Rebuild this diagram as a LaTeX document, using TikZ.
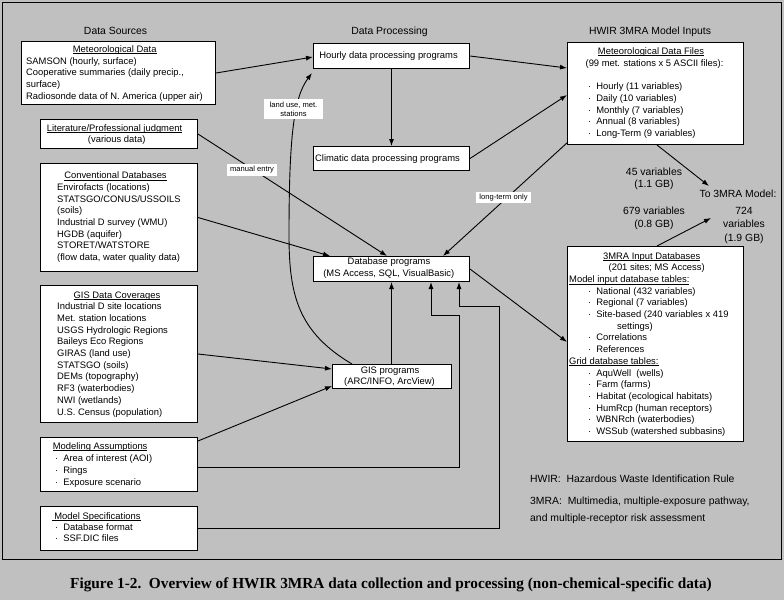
\documentclass[tikz,border=0pt]{standalone}
\usepackage{fontspec}
\setmainfont{Liberation Sans}
\newfontfamily\capfont{Liberation Serif}
\usetikzlibrary{arrows.meta,calc}
\definecolor{bg}{HTML}{C0C0C0}
\newcommand\ulx[1]{\setbox0\hbox{#1}\rlap{\vrule width\wd0 height -1.1pt depth 1.8pt}\box0}
\newcommand\bul{·\kern5pt }
\begin{document}
\begin{tikzpicture}[x=1pt,y=-1pt,
  box/.style={draw=black, line width=1pt, fill=white, inner sep=0pt, anchor=north west},
  txt/.style={inner sep=0pt, font=\fontsize{9.4}{11}\selectfont},
  tl/.style={txt, anchor=base west},
  tc/.style={txt, anchor=base},
  hdr/.style={inner sep=0pt, anchor=base, font=\fontsize{10.4}{12}\selectfont},
  hdl/.style={inner sep=0pt, anchor=base west, font=\fontsize{10.4}{12}\selectfont},
  lbl/.style={fill=white, inner sep=0pt, font=\fontsize{7.6}{8.8}\selectfont, align=center},
  conn/.style={line width=0.9pt},
  arr/.style={conn, -{Latex[length=7pt,width=5pt]}},
]
\fill[bg] (0,0) rectangle (784,600);
\useasboundingbox (0,0) rectangle (784,600);
\draw[line width=1pt] (2,2) rectangle (781,559);

% headers
\node[hdr] (h1) at (115.5,34.7) {Data Sources};
\node[hdr] (h2) at (389.5,34.7) {Data Processing};
\node[hdr] (h3) at (650,34.7) {HWIR 3MRA Model Inputs};

% boxes
\node[box, minimum width=194pt, minimum height=63pt] (met) at (21,41) {};
\node[box, minimum width=157pt, minimum height=29pt] (lit) at (40,119) {};
\node[box, minimum width=157pt, minimum height=108pt] (conv) at (40,163) {};
\node[box, minimum width=157pt, minimum height=137pt] (gisd) at (40,285) {};
\node[box, minimum width=157pt, minimum height=54pt] (ma) at (40,437) {};
\node[box, minimum width=157pt, minimum height=44pt] (ms) at (40,506) {};
\node[box, minimum width=156pt, minimum height=25pt] (hourly) at (313,43) {};
\node[box, minimum width=156pt, minimum height=24pt] (clim) at (313,146) {};
\node[box, minimum width=156pt, minimum height=25pt] (db) at (313,256) {};
\node[box, minimum width=119pt, minimum height=24pt] (gisp) at (332,364) {};
\node[box, minimum width=176pt, minimum height=102pt] (metf) at (567,42) {};
\node[box, minimum width=176pt, minimum height=195pt] (mdb) at (567,246) {};

% connectors
\draw[arr] (met.east) -- ($(hourly.north west)+(0,14)$);
\draw[arr] (hourly.east) -- ($(metf.north west)+(0,26)$);
\draw[arr] (hourly.south) -- (clim.north);
\draw[arr] (clim.east) -- ($(metf.north west)+(0,53)$);
\draw[arr] ($(metf.south west)+(1,-3)$) -- ($(db.north west)+(130,0)$);
\draw[arr] (lit.east) -- ($(db.north west)+(74,0)$);
\draw[arr] (conv.east) -- ($(db.north west)+(17,0)$);
\draw[arr] (gisd.east) -- ($(gisp.north west)+(0,5)$);
\draw[arr] ($(ma.north east)+(0,4)$) -- ($(gisp.south west)+(0,-3)$);
\draw[arr] ($(ma.north east)+(0,30)$) -| (459,315) -| ($(db.south west)+(118,0)$);
\draw[arr] ($(ms.north east)+(0,22)$) -| (499,306) -| ($(db.south west)+(146,0)$);
\draw[arr] (gisp.north -| db.south) -- (db.south);
\draw[arr] ($(db.north east)+(0,13)$) -- ($(mdb.north west)+(0,96)$);
\draw[arr] ($(gisp.north west)+(20,0)$) .. controls (298,332) and (289,295) .. (289,235)
  .. controls (289,135) and (294,97) .. ($(hourly.south west)+(-1,4)$);
\coordinate (t1) at (709,186);
\coordinate (t2) at (711,218);
\draw[arr] ($(metf.south west)+(90,0)$) -- (t1);
\draw[arr] ($(mdb.north west)+(90,0)$) -- (t2);

% connector labels
\node[lbl, minimum width=59pt, minimum height=20pt] (lab1) at (293.5,109) {land use, met.\\stations};
\node[lbl, minimum width=50pt, minimum height=12pt] (lab2) at (252,170) {manual entry};
\node[lbl, minimum width=55pt, minimum height=11pt] (lab3) at (503.5,197.5) {long-term only};

% Met data
\node[tc] (met0) at (114.7,52) {\ulx{Meteorological Data}};
\node[tl] (met1) at (26,64.2) {SAMSON (hourly, surface)};
\node[tl] (met2) at (26,75.9) {Cooperative summaries (daily precip.,};
\node[tl] (met3) at (26,87.6) {surface)};
\node[tl] (met4) at (26,99.3) {Radiosonde data of N. America (upper air)};

% Literature
\node[tc] (lit0) at (114.5,131) {\ulx{Literature/Professional judgment}};
\node[tc] (lit1) at (116.7,142.6) {(various data)};

% Conventional
\node[tc] (cv0) at (115.5,178.7) {\ulx{Conventional Databases}};
\node[tl] (cv1) at (57,190.4) {Envirofacts (locations)};
\node[tl] (cv2) at (57,202.1) {STATSGO/CONUS/USSOILS};
\node[tl] (cv3) at (57,213.8) {(soils)};
\node[tl] (cv4) at (57,225.5) {Industrial D survey (WMU)};
\node[tl] (cv5) at (57,237.2) {HGDB (aquifer)};
\node[tl] (cv6) at (57,248.9) {STORET/WATSTORE};
\node[tl] (cv7) at (57,260.6) {(flow data, water quality data)};

% GIS data coverages
\node[tc] (gd0) at (117,298) {\ulx{GIS Data Coverages}};
\node[tl] (gd1) at (57,309.7) {Industrial D site locations};
\node[tl] (gd2) at (57,321.4) {Met. station locations};
\node[tl] (gd3) at (57,333.1) {USGS Hydrologic Regions};
\node[tl] (gd4) at (57,344.8) {Baileys Eco Regions};
\node[tl] (gd5) at (57,356.5) {GIRAS (land use)};
\node[tl] (gd6) at (57,368.2) {STATSGO (soils)};
\node[tl] (gd7) at (57,379.9) {DEMs (topography)};
\node[tl] (gd8) at (57,391.6) {RF3 (waterbodies)};
\node[tl] (gd9) at (57,403.3) {NWI (wetlands)};
\node[tl] (gd10) at (57,415) {U.S. Census (population)};

% Modeling assumptions
\node[tl] (ma0) at (52.7,449) {\ulx{Modeling Assumptions}};
\node[tl] (ma1) at (55,461) {\bul Area of interest (AOI)};
\node[tl] (ma2) at (55,473) {\bul Rings};
\node[tl] (ma3) at (55,485) {\bul Exposure scenario};

% Model specifications
\node[tl] (ms0) at (51.5,519.3) {\ulx{\ Model Specifications}};
\node[tl] (ms1) at (55,530.7) {\bul Database format};
\node[tl] (ms2) at (55,541.3) {\bul SSF.DIC files};

% processing boxes
\node[tc] (hr0) at (388.5,58.3) {Hourly data processing programs};
\node[tc] (cl0) at (387.5,161) {Climatic data processing programs};
\node[tc] (db0) at (389,264.7) {Database programs};
\node[tc] (db1) at (388.8,276.7) {(MS Access, SQL, VisualBasic)};
\node[tc] (gp0) at (390,373) {GIS programs};
\node[tc] (gp1) at (389.5,384.3) {(ARC/INFO, ArcView)};

% Met data files
\node[tc] (mf0) at (651,54) {\ulx{Meteorological Data Files}};
\node[tc] (mf1) at (654.5,66.3) {(99 met. stations x 5 ASCII files):};
\node[tl] (mf2) at (588,89.7) {\bul Hourly (11 variables)};
\node[tl] (mf3) at (588,101.4) {\bul Daily (10 variables)};
\node[tl] (mf4) at (588,113.1) {\bul Monthly (7 variables)};
\node[tl] (mf5) at (588,124.8) {\bul Annual (8 variables)};
\node[tl] (mf6) at (588,136.5) {\bul Long-Term (9 variables)};

% 3MRA input databases
\node[tc] (md0) at (651.7,259) {\ulx{3MRA Input Databases}};
\node[tc] (md1) at (656.7,270.7) {(201 sites; MS Access)};
\node[tl] (md2) at (569,282.4) {\ulx{Model input database tables:}};
\node[tl] (md3) at (588,294.1) {\bul National (432 variables)};
\node[tl] (md4) at (588,305.8) {\bul Regional (7 variables)};
\node[tl] (md5) at (588,317.5) {\bul Site-based (240 variables x 419};
\node[tl] (md6) at (617,329.2) {settings)};
\node[tl] (md7) at (588,340.9) {\bul Correlations};
\node[tl] (md8) at (588,352.6) {\bul References};
\node[tl] (md9) at (569,364.3) {\ulx{Grid database tables:}};
\node[tl] (md10) at (588,376) {\bul AquWell\ \ (wells)};
\node[tl] (md11) at (588,387.7) {\bul Farm (farms)};
\node[tl] (md12) at (588,399.4) {\bul Habitat (ecological habitats)};
\node[tl] (md13) at (588,411.1) {\bul HumRcp (human receptors)};
\node[tl] (md14) at (588,422.8) {\bul WBNRch (waterbodies)};
\node[tl] (md15) at (588,434.5) {\bul WSSub (watershed subbasins)};

% right-hand labels
\node[hdr] (v1) at (654,175) {45 variables};
\node[hdr] (v2) at (654,187.7) {(1.1 GB)};
\node[hdr] (v3) at (738,197.7) {To 3MRA Model:};
\node[hdr] (v4) at (744,214.7) {724};
\node[hdr] (v5) at (744,227.4) {variables};
\node[hdr] (v6) at (744,241.4) {(1.9 GB)};
\node[hdr] (v7) at (654,214.7) {679 variables};
\node[hdr] (v8) at (654,227.4) {(0.8 GB)};

% notes
\node[hdl] (n1) at (530,482.7) {HWIR:\ \ Hazardous Waste Identification Rule};
\node[hdl] (n2) at (530,504.7) {3MRA:\ \ Multimedia, multiple-exposure pathway,};
\node[hdl] (n3) at (530,521.7) {and multiple-receptor risk assessment};

% caption
\node[inner sep=0pt, anchor=base, font=\capfont\bfseries\fontsize{15.3}{18}\selectfont] (cap) at (391,588) {Figure 1-2.\ \ Overview of HWIR 3MRA data collection and processing (non-chemical-specific data)};
\end{tikzpicture}
\end{document}
